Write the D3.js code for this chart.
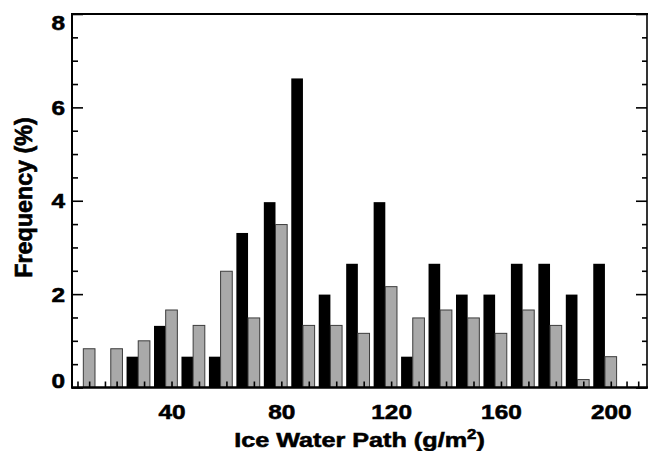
<!DOCTYPE html>
<html>
<head>
<meta charset="utf-8">
<script src="https://cdn.jsdelivr.net/npm/d3@7/dist/d3.min.js"></script>
<style>
  html, body { margin: 0; padding: 0; background: #fff; }
  svg { display: block; }
  text { font-family: "Liberation Sans", Arial, Helvetica, sans-serif; font-weight: bold; fill: #000;
         stroke: #000; stroke-width: 0.55px; }
</style>
</head>
<body>
<svg id="chart" width="648" height="451"></svg>
<script>
// Histogram bins of ice water path (g/m^2), bin centres every 10
const bins = [10, 20, 30, 40, 50, 60, 70, 80, 90, 100, 110, 120, 130, 140, 150, 160, 170, 180, 190, 200, 210];
// Frequency (%) for the dark series
const blackFreq = [0, 0, 0.66, 1.32, 0.66, 0.66, 3.31, 3.97, 6.62, 1.99, 2.65, 3.97, 0.66, 2.65, 1.99, 1.99, 2.65, 2.65, 1.99, 2.65, 0];
// Frequency (%) for the light series
const grayFreq = [0.83, 0.83, 1.0, 1.66, 1.33, 2.49, 1.49, 3.49, 1.33, 1.33, 1.16, 2.16, 1.49, 1.66, 1.49, 1.16, 1.66, 1.33, 0.17, 0.66, 0];
// Axis labels
const xTickLabels = [40, 80, 120, 160, 200];
const yTickLabels = [0, 2, 4, 6, 8];
const yMinorTicks = [0.5, 1, 1.5, 2.5, 3, 3.5, 4.5, 5, 5.5, 6.5, 7, 7.5];

const svg = d3.select("#chart");
const L = 72, R = 647, T = 14, B = 387.5;
const barW = 4.25;          // bar width in data units
const textStretch = 1.22;   // horizontal stretch of the lettering

const x = d3.scaleLinear().domain([3.75, 213.2]).range([L, R]);
const y = d3.scaleLinear().domain([0, 8]).range([B, T]);

const data = bins.map((b, i) => ({ b, black: blackFreq[i], gray: grayFreq[i] }));

// bars
const g = svg.append("g");
g.selectAll("rect.black").data(data.filter(d => d.black > 0)).join("rect")
  .attr("class", "black")
  .attr("x", d => x(d.b - 1.5 * barW))
  .attr("width", d => x(d.b - 0.5 * barW) - x(d.b - 1.5 * barW))
  .attr("y", d => y(d.black))
  .attr("height", d => y(0) - y(d.black))
  .attr("fill", "#000");

g.selectAll("rect.gray").data(data.filter(d => d.gray > 0)).join("rect")
  .attr("class", "gray")
  .attr("x", d => x(d.b - 0.5 * barW))
  .attr("width", d => x(d.b + 0.5 * barW) - x(d.b - 0.5 * barW))
  .attr("y", d => y(d.gray))
  .attr("height", d => y(0) - y(d.gray))
  .attr("fill", "#a9a9a9")
  .attr("stroke", "#3c3c3c")
  .attr("stroke-width", 1);

// bottom axis: a short tick under every bar position
const barCentres = [];
bins.forEach(b => { barCentres.push(b - barW); barCentres.push(b); });
const xTickAxis = d3.axisBottom(x).tickValues(barCentres).tickSize(-6).tickFormat("");
svg.append("g").attr("transform", `translate(0,${B})`).call(xTickAxis)
  .call(s => s.select(".domain").remove())
  .call(s => s.selectAll("line").attr("stroke", "#000").attr("stroke-width", 1.6));

// bottom axis labels
const xLabelAxis = d3.axisBottom(x).tickValues(xTickLabels).tickSize(0).tickFormat(d3.format("d"));
svg.append("g").attr("transform", `translate(0,${B})`).call(xLabelAxis)
  .call(s => s.select(".domain").remove())
  .call(s => s.selectAll("text")
    .attr("y", null).attr("dy", null)
    .attr("transform", `translate(0,31) scale(${textStretch},1)`)
    .attr("font-size", 20).attr("font-family", null));

// left axis: major and minor ticks pointing inward
svg.append("g").attr("transform", `translate(${L},0)`)
  .call(d3.axisLeft(y).tickValues(yTickLabels).tickSize(-11).tickFormat(""))
  .call(s => s.select(".domain").remove())
  .call(s => s.selectAll("line").attr("stroke", "#000").attr("stroke-width", 1.6));
svg.append("g").attr("transform", `translate(${L},0)`)
  .call(d3.axisLeft(y).tickValues(yMinorTicks).tickSize(-6).tickFormat(""))
  .call(s => s.select(".domain").remove())
  .call(s => s.selectAll("line").attr("stroke", "#000").attr("stroke-width", 1.6));

// right axis ticks
svg.append("g").attr("transform", `translate(${R},0)`)
  .call(d3.axisRight(y).tickValues(yTickLabels).tickSize(-11).tickFormat(""))
  .call(s => s.select(".domain").remove())
  .call(s => s.selectAll("line").attr("stroke", "#000").attr("stroke-width", 1.6));
svg.append("g").attr("transform", `translate(${R},0)`)
  .call(d3.axisRight(y).tickValues(yMinorTicks).tickSize(-5).tickFormat(""))
  .call(s => s.select(".domain").remove())
  .call(s => s.selectAll("line").attr("stroke", "#000").attr("stroke-width", 1.6));

// left axis labels (end labels nudged inside the frame)
const yShift = v => (v === 8 ? 8 : v === 0 ? -7.5 : 0);
svg.append("g").attr("transform", `translate(${L},0)`)
  .call(d3.axisLeft(y).tickValues(yTickLabels).tickSize(0).tickFormat(d3.format("d")))
  .call(s => s.select(".domain").remove())
  .call(s => s.selectAll("text")
    .attr("x", null).attr("dy", "0.36em")
    .attr("transform", d => `translate(-7,${yShift(d)}) scale(${textStretch},1)`)
    .attr("text-anchor", "end")
    .attr("font-size", 20).attr("font-family", null));

// frame
const frame = svg.append("g").attr("fill", "none").attr("stroke", "#000");
frame.append("line").attr("x1", L).attr("x2", 648).attr("y1", T).attr("y2", T).attr("stroke-width", 2);
frame.append("line").attr("x1", L).attr("x2", 648).attr("y1", B).attr("y2", B).attr("stroke-width", 2.6);
frame.append("line").attr("x1", L).attr("x2", L).attr("y1", T - 1).attr("y2", B + 1.3).attr("stroke-width", 2);
frame.append("line").attr("x1", R).attr("x2", R).attr("y1", T).attr("y2", B).attr("stroke-width", 1.6);

// axis titles
const xt = svg.append("text")
  .attr("transform", `translate(${(L + R) / 2},446.5) scale(1.2,1)`)
  .attr("text-anchor", "middle")
  .attr("font-size", 21);
xt.append("tspan").text("Ice Water Path (g/m");
xt.append("tspan").attr("font-size", 14).attr("dy", -7.5).text("2");
xt.append("tspan").attr("dy", 7.5).text(")");

svg.append("text")
  .attr("transform", "translate(31.5,197.5) rotate(-90) scale(1.11,1.18)")
  .attr("text-anchor", "middle")
  .attr("font-size", 21)
  .text("Frequency (%)");
</script>
</body>
</html>
